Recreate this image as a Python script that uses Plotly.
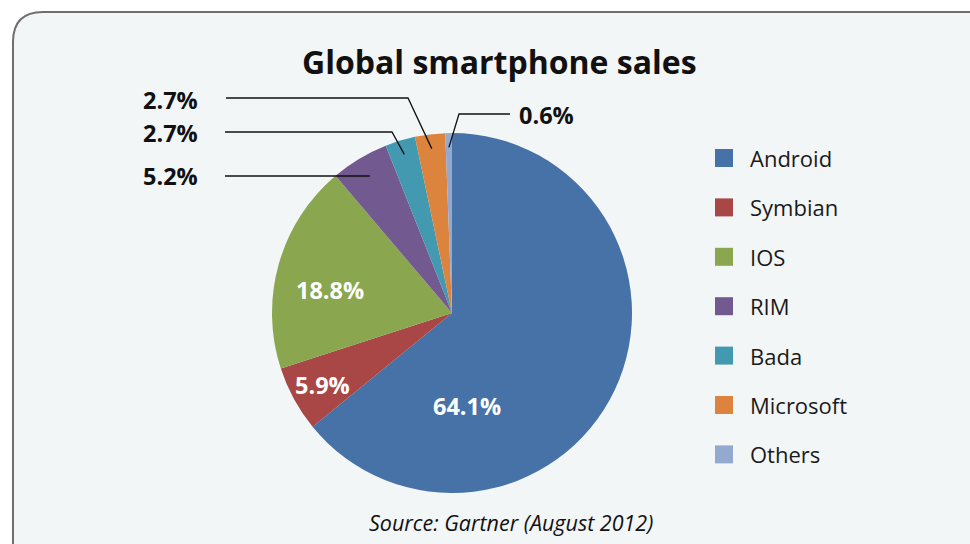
import math
import plotly.graph_objects as go

# ---------------- data ----------------
labels = ["Android", "Symbian", "IOS", "RIM", "Bada", "Microsoft", "Others"]
values = [64.1, 5.9, 18.8, 5.2, 2.7, 2.7, 0.6]
colors = ["#4672a8", "#a84745", "#8aa64f", "#72598f", "#4299b0", "#dc843e", "#93a9cf"]
title_text = "Global smartphone sales"
source_text = "Source: Gartner (August 2012)"

# ---------------- layout constants (pixels) ----------------
W, H = 970, 544
CX, CY, R = 452, 313, 180
BG = "#f3f6f7"
FONT = "Open Sans"


def px(x):
    return x / W


def py(y):
    return 1 - y / H


# inside labels (white)
inside_pos = {"Android": (467, 406), "Symbian": (322, 385), "IOS": (330, 290)}
# outside callouts: elbow, end of line, label anchor
callouts = {
    "Others": dict(elbow=(459, 114), end=(510, 114), label=(517, 115), anchor="left"),
    "Microsoft": dict(elbow=(408, 98), end=(226, 98), label=(200, 100), anchor="right"),
    "Bada": dict(elbow=(392, 132), end=(225, 132), label=(200, 133), anchor="right"),
    "RIM": dict(elbow=None, end=(225, 176), label=(200, 176), anchor="right"),
}

total = sum(values)
mid_angle = {}
cum = 0.0
for lab, v in zip(labels, values):
    mid_angle[lab] = 2 * math.pi * (cum + v / 2) / total  # clockwise from 12 o'clock
    cum += v

fig = go.Figure()
fig.add_trace(go.Pie(
    labels=labels, values=values, sort=False, direction="clockwise", rotation=0,
    marker=dict(colors=colors, line=dict(width=0)),
    textinfo="none", hoverinfo="label+percent", showlegend=False,
    domain=dict(x=[px(CX - R), px(CX + R)], y=[py(CY + R), py(CY - R)]),
))

shapes = []
# rounded panel
x0, y0, rc = 13, 12, 30
path = (f"M {px(x0)},{py(620)} L {px(x0)},{py(y0 + rc)} "
        f"Q {px(x0)},{py(y0)} {px(x0 + rc)},{py(y0)} "
        f"L {px(1040)},{py(y0)} L {px(1040)},{py(620)} Z")
shapes.append(dict(type="path", xref="paper", yref="paper", path=path,
                   fillcolor=BG, line=dict(color="#6f6f6f", width=2), layer="below"))

annotations = []
annotations.append(dict(text=f"<b>{title_text}</b>", x=px(500), y=py(61), xref="paper", yref="paper",
                        showarrow=False, xanchor="center", yanchor="middle",
                        font=dict(family=FONT, size=32, color="#111111")))
annotations.append(dict(text=f"<i>{source_text}</i>", x=px(511), y=py(522), xref="paper", yref="paper",
                        showarrow=False, xanchor="center", yanchor="middle",
                        font=dict(family=FONT, size=21.5, color="#111111")))

vals = dict(zip(labels, values))
for lab, (x, y) in inside_pos.items():
    annotations.append(dict(text=f"<b>{vals[lab]}%</b>", x=px(x), y=py(y), xref="paper", yref="paper",
                            showarrow=False, xanchor="center", yanchor="middle",
                            font=dict(family=FONT, size=23.5, color="white")))

for lab, c in callouts.items():
    a = mid_angle[lab]
    ex, ey = c["end"]
    if c["elbow"] is None:
        f = (CY - ey) / (R * math.cos(a))
        sx, sy = CX + f * R * math.sin(a), ey
        pts = [(sx, sy), (ex, ey)]
    else:
        f = 0.92
        sx, sy = CX + f * R * math.sin(a), CY - f * R * math.cos(a)
        pts = [(sx, sy), c["elbow"], (ex, ey)]
    p = "M " + " L ".join(f"{px(X)},{py(Y)}" for X, Y in pts)
    shapes.append(dict(type="path", xref="paper", yref="paper", path=p,
                       line=dict(color="#111111", width=1.3), layer="above"))
    lx, ly = c["label"]
    annotations.append(dict(text=f"<b>{vals[lab]}%</b>", x=px(lx), y=py(ly), xref="paper", yref="paper",
                            showarrow=False, xanchor=c["anchor"], yanchor="middle",
                            font=dict(family=FONT, size=23.5, color="#111111")))

# manual legend
LEG_X, LEG_Y0, LEG_DY, SQ = 715, 158, 49.4, 18
for i, (lab, col) in enumerate(zip(labels, colors)):
    yc = LEG_Y0 + i * LEG_DY
    shapes.append(dict(type="rect", xref="paper", yref="paper",
                       x0=px(LEG_X), x1=px(LEG_X + SQ), y0=py(yc + SQ / 2), y1=py(yc - SQ / 2),
                       fillcolor=col, line=dict(width=0), layer="above"))
    annotations.append(dict(text=lab, x=px(748), y=py(yc), xref="paper", yref="paper",
                            showarrow=False, xanchor="left", yanchor="middle",
                            font=dict(family=FONT, size=22, color="#1a1a1a")))

fig.update_layout(
    width=W, height=H, margin=dict(l=0, r=0, t=0, b=0),
    paper_bgcolor="white", plot_bgcolor="rgba(0,0,0,0)",
    shapes=shapes, annotations=annotations, showlegend=False,
)
fig.write_html("out.html")
